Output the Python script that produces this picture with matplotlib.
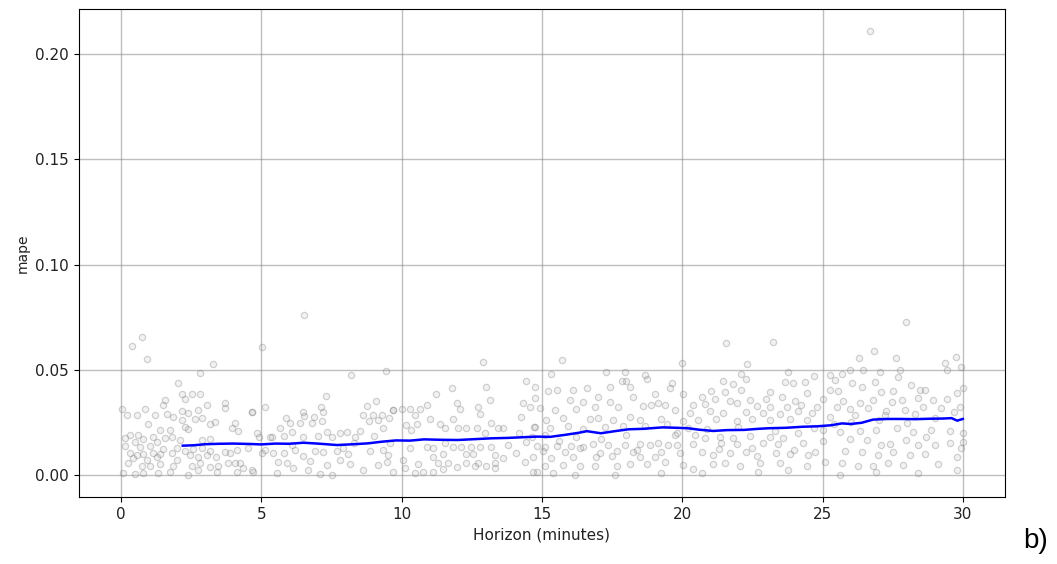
import matplotlib.pyplot as plt
import numpy as np

# ================= cross-validation errors (horizon in minutes, mape)

pts_0_5 = [
    (0.74, 0.0657), (0.38, 0.0612), (0.91, 0.0549), (3.29, 0.0527), (2.81, 0.0483),
    (2.04, 0.0435), (2.16, 0.0384), (2.52, 0.0384), (2.81, 0.0384), (1.57, 0.0356),
    (2.28, 0.0360), (1.51, 0.0332), (3.05, 0.0332), (3.71, 0.0340), (3.71, 0.0316),
    (0.02, 0.0312), (0.86, 0.0312), (2.75, 0.0308), (2.16, 0.0305), (4.66, 0.0300),
    (0.20, 0.0285), (0.56, 0.0285), (1.21, 0.0285), (1.62, 0.0290), (1.86, 0.0277),
    (2.40, 0.0293), (2.64, 0.0266), (2.88, 0.0269), (3.35, 0.0253), (3.17, 0.0242),
    (2.16, 0.0261), (2.28, 0.0226), (2.40, 0.0217), (4.06, 0.0248), (3.94, 0.0221),
    (4.18, 0.0210), (0.97, 0.0242), (1.39, 0.0214), (1.75, 0.0214), (0.32, 0.0190),
    (0.62, 0.0190), (0.14, 0.0174), (0.80, 0.0169), (1.15, 0.0182), (1.57, 0.0174),
    (1.80, 0.0179), (2.10, 0.0166), (2.87, 0.0166), (3.17, 0.0169), (0.50, 0.0158),
    (1.27, 0.0158), (0.14, 0.0138), (0.68, 0.0134), (1.03, 0.0138), (1.51, 0.0122),
    (1.98, 0.0127), (2.28, 0.0115), (2.58, 0.0122), (2.87, 0.0127), (3.17, 0.0115),
    (3.70, 0.0111), (4.12, 0.0119), (4.54, 0.0127), (0.32, 0.0106), (0.56, 0.0095),
    (0.80, 0.0100), (1.15, 0.0106), (1.39, 0.0100), (1.80, 0.0103), (2.46, 0.0095),
    (2.75, 0.0084), (3.05, 0.0095), (3.40, 0.0087), (3.88, 0.0103), (0.44, 0.0079),
    (0.91, 0.0071), (1.27, 0.0087), (1.98, 0.0071), (0.26, 0.0055), (0.74, 0.0040),
    (1.03, 0.0043), (1.39, 0.0052), (1.86, 0.0043), (2.52, 0.0040), (2.81, 0.0055),
    (3.17, 0.0036), (3.47, 0.0040), (3.82, 0.0059), (4.06, 0.0055), (4.24, 0.0059),
    (0.08, 0.0008), (0.50, 0.0005), (0.80, 0.0011), (1.33, 0.0008), (1.75, 0.0016),
    (2.40, 0.0000), (2.75, 0.0024), (3.41, 0.0016), (4.12, 0.0016), (4.36, 0.0032),
    (4.66, 0.0024),
]

pts_5_10 = [
    (6.52, 0.0761), (5.02, 0.0606), (8.19, 0.0476), (9.45, 0.0492), (7.31, 0.0375),
    (5.13, 0.0321), (4.66, 0.0297), (6.48, 0.0299), (7.13, 0.0324), (8.78, 0.0327),
    (9.09, 0.0350), (9.68, 0.0308), (6.52, 0.0280), (6.86, 0.0277), (7.18, 0.0300),
    (8.64, 0.0285), (8.97, 0.0285), (9.29, 0.0285), (5.88, 0.0269), (6.03, 0.0248),
    (6.38, 0.0248), (6.80, 0.0248), (7.15, 0.0258), (8.85, 0.0258), (9.17, 0.0261),
    (9.56, 0.0269), (5.67, 0.0221), (6.08, 0.0206), (7.33, 0.0206), (7.80, 0.0201),
    (8.04, 0.0206), (8.52, 0.0210), (9.35, 0.0221), (5.31, 0.0182), (5.79, 0.0185),
    (6.50, 0.0182), (7.03, 0.0185), (7.51, 0.0179), (8.34, 0.0179), (9.02, 0.0185),
    (4.90, 0.0182), (5.13, 0.0119), (5.02, 0.0106), (5.43, 0.0106), (5.79, 0.0103),
    (6.20, 0.0119), (6.50, 0.0090), (6.92, 0.0115), (7.21, 0.0111), (7.69, 0.0115),
    (8.10, 0.0100), (8.88, 0.0115), (9.35, 0.0119), (9.53, 0.0095), (5.61, 0.0063),
    (5.91, 0.0059), (6.14, 0.0032), (6.74, 0.0068), (7.33, 0.0047), (7.81, 0.0071),
    (8.16, 0.0052), (9.17, 0.0047), (9.47, 0.0063), (4.72, 0.0016), (5.55, 0.0008),
    (6.68, 0.0021), (7.09, 0.0005), (7.51, 0.0000), (8.64, 0.0024), (9.71, 0.0016),
    (4.84, 0.0198), (5.37, 0.0179), (8.30, 0.0150), (7.90, 0.0128), (6.10, 0.0140),
]

pts_10_15 = [
    (12.91, 0.0538), (14.45, 0.0448), (11.78, 0.0411), (13.02, 0.0419), (11.24, 0.0384),
    (13.14, 0.0356), (11.96, 0.0343), (10.89, 0.0332), (12.73, 0.0321), (9.70, 0.0308),
    (10.00, 0.0312), (10.29, 0.0312), (10.65, 0.0312), (12.07, 0.0312), (12.79, 0.0290),
    (14.33, 0.0340), (14.57, 0.0324), (10.47, 0.0285), (11.01, 0.0264), (11.84, 0.0264),
    (14.27, 0.0277), (10.17, 0.0237), (10.53, 0.0242), (11.36, 0.0242), (13.20, 0.0248),
    (10.35, 0.0214), (11.54, 0.0221), (12.01, 0.0221), (12.31, 0.0221), (12.67, 0.0221),
    (13.44, 0.0221), (13.62, 0.0221), (12.96, 0.0198), (9.58, 0.0150), (10.29, 0.0127),
    (10.89, 0.0134), (11.12, 0.0127), (11.84, 0.0131), (12.13, 0.0131), (12.49, 0.0131),
    (12.79, 0.0131), (13.20, 0.0131), (11.54, 0.0150), (14.09, 0.0106), (14.45, 0.0158),
    (11.48, 0.0100), (12.31, 0.0100), (12.55, 0.0100), (13.32, 0.0095), (11.12, 0.0084),
    (10.05, 0.0071), (10.59, 0.0052), (11.30, 0.0055), (11.66, 0.0059), (12.31, 0.0055),
    (12.73, 0.0059), (13.32, 0.0059), (14.39, 0.0063), (10.77, 0.0016), (11.12, 0.0016),
    (11.48, 0.0027), (11.96, 0.0036), (12.61, 0.0040), (13.02, 0.0040), (13.32, 0.0032),
    (10.11, 0.0032), (10.47, 0.0008), (14.69, 0.0016), (13.80, 0.0140), (13.60, 0.0080),
    (14.20, 0.0200), (14.70, 0.0230),
]

pts_15_20 = [
    (15.70, 0.0546), (15.34, 0.0479), (17.30, 0.0490), (17.95, 0.0490), (18.67, 0.0475),
    (18.73, 0.0454), (17.84, 0.0448), (18.01, 0.0448), (14.75, 0.0419), (15.22, 0.0400),
    (15.52, 0.0403), (16.11, 0.0403), (16.59, 0.0411), (17.42, 0.0419), (18.13, 0.0419),
    (19.02, 0.0384), (19.56, 0.0411), (14.75, 0.0364), (16.00, 0.0356), (16.47, 0.0348),
    (17.00, 0.0369), (17.42, 0.0348), (18.25, 0.0372), (19.14, 0.0340), (14.93, 0.0316),
    (15.46, 0.0308), (16.23, 0.0312), (16.88, 0.0321), (17.72, 0.0321), (18.61, 0.0327),
    (18.90, 0.0332), (19.38, 0.0332), (15.16, 0.0261), (15.76, 0.0269), (16.71, 0.0264),
    (17.00, 0.0269), (17.54, 0.0261), (18.13, 0.0277), (18.49, 0.0261), (19.26, 0.0264),
    (14.75, 0.0229), (15.28, 0.0221), (15.94, 0.0233), (16.47, 0.0217), (17.24, 0.0229),
    (17.90, 0.0233), (18.67, 0.0233), (19.44, 0.0242), (14.81, 0.0138), (15.10, 0.0134),
    (15.52, 0.0138), (16.05, 0.0138), (16.47, 0.0134), (16.83, 0.0147), (17.36, 0.0142),
    (17.95, 0.0142), (18.49, 0.0147), (18.85, 0.0142), (19.14, 0.0153), (19.50, 0.0142),
    (15.04, 0.0115), (15.82, 0.0111), (16.35, 0.0127), (17.06, 0.0106), (17.66, 0.0115),
    (18.25, 0.0111), (19.26, 0.0111), (14.63, 0.0182), (15.10, 0.0190), (14.69, 0.0087),
    (15.34, 0.0079), (16.11, 0.0084), (16.94, 0.0087), (17.48, 0.0090), (18.49, 0.0084),
    (19.02, 0.0087), (15.10, 0.0040), (15.76, 0.0047), (16.35, 0.0040), (16.88, 0.0043),
    (17.66, 0.0040), (18.13, 0.0052), (18.73, 0.0052), (19.38, 0.0063), (14.81, 0.0016),
    (16.17, 0.0000), (17.60, 0.0000), (19.26, 0.0008), (15.40, 0.0008), (16.20, 0.0180),
    (17.10, 0.0170), (18.00, 0.0190), (19.80, 0.0200), (15.60, 0.0160), (18.40, 0.0120),
]

pts_20_25 = [
    (21.56, 0.0628), (23.22, 0.0633), (22.32, 0.0527), (20.01, 0.0530), (23.78, 0.0490),
    (22.09, 0.0479), (19.62, 0.0435), (21.44, 0.0448), (21.82, 0.0432), (22.29, 0.0454),
    (23.66, 0.0443), (23.95, 0.0438), (24.37, 0.0443), (21.04, 0.0400), (21.52, 0.0396),
    (22.11, 0.0403), (23.12, 0.0396), (24.43, 0.0391), (20.03, 0.0384), (20.69, 0.0372),
    (21.16, 0.0359), (21.70, 0.0353), (22.41, 0.0356), (22.98, 0.0359), (23.54, 0.0372),
    (24.01, 0.0353), (20.39, 0.0332), (20.81, 0.0337), (21.94, 0.0340), (22.65, 0.0327),
    (23.12, 0.0321), (23.72, 0.0321), (24.25, 0.0332), (19.74, 0.0308), (20.27, 0.0293),
    (20.99, 0.0305), (21.46, 0.0293), (22.29, 0.0300), (22.89, 0.0296), (23.48, 0.0290),
    (24.13, 0.0305), (24.61, 0.0293), (20.03, 0.0258), (20.57, 0.0261), (21.22, 0.0264),
    (21.94, 0.0258), (22.47, 0.0264), (23.12, 0.0261), (23.84, 0.0264), (24.43, 0.0261),
    (19.74, 0.0190), (20.45, 0.0190), (20.81, 0.0174), (21.34, 0.0182), (21.82, 0.0174),
    (22.41, 0.0185), (23.12, 0.0179), (23.60, 0.0174), (24.13, 0.0198), (19.80, 0.0142),
    (20.39, 0.0147), (21.40, 0.0150), (21.94, 0.0147), (22.89, 0.0150), (23.42, 0.0147),
    (24.31, 0.0153), (19.92, 0.0103), (20.69, 0.0111), (21.10, 0.0095), (21.70, 0.0103),
    (22.29, 0.0111), (22.65, 0.0090), (23.36, 0.0106), (23.84, 0.0100), (24.49, 0.0095),
    (20.03, 0.0047), (21.10, 0.0052), (21.52, 0.0059), (22.05, 0.0043), (22.77, 0.0055),
    (23.48, 0.0059), (24.43, 0.0040), (20.39, 0.0027), (20.69, 0.0008), (22.71, 0.0016),
    (23.78, 0.0024), (20.90, 0.0220), (22.00, 0.0230), (23.30, 0.0210), (24.70, 0.0225),
    (21.30, 0.0125), (22.50, 0.0128), (24.00, 0.0120), (20.20, 0.0225),
]

pts_25_30 = [
    (27.97, 0.0728), (26.83, 0.0590), (26.31, 0.0554), (27.61, 0.0554), (29.36, 0.0533),
    (29.75, 0.0562), (29.95, 0.0511), (25.98, 0.0498), (26.43, 0.0498), (27.04, 0.0490),
    (27.76, 0.0498), (29.42, 0.0501), (24.69, 0.0470), (25.26, 0.0475), (25.68, 0.0479),
    (27.70, 0.0467), (25.44, 0.0451), (26.04, 0.0435), (26.87, 0.0443), (25.26, 0.0403),
    (25.56, 0.0400), (26.39, 0.0419), (27.10, 0.0396), (27.52, 0.0400), (28.17, 0.0427),
    (28.47, 0.0406), (28.65, 0.0403), (29.78, 0.0391), (30.00, 0.0411), (25.02, 0.0359),
    (25.74, 0.0353), (26.33, 0.0343), (26.81, 0.0356), (27.46, 0.0348), (27.82, 0.0356),
    (28.41, 0.0364), (28.94, 0.0356), (29.42, 0.0359), (24.79, 0.0321), (25.50, 0.0321),
    (25.98, 0.0312), (26.63, 0.0316), (27.28, 0.0305), (27.93, 0.0308), (28.59, 0.0321),
    (29.24, 0.0316), (29.90, 0.0321), (25.26, 0.0277), (26.15, 0.0285), (27.22, 0.0285),
    (28.29, 0.0290), (25.02, 0.0214), (25.62, 0.0206), (26.33, 0.0210), (26.92, 0.0214),
    (27.64, 0.0221), (28.23, 0.0206), (28.88, 0.0214), (29.54, 0.0210), (30.00, 0.0201),
    (25.02, 0.0163), (25.98, 0.0169), (26.57, 0.0166), (27.10, 0.0142), (27.40, 0.0147),
    (27.99, 0.0166), (28.41, 0.0142), (29.00, 0.0142), (29.54, 0.0153), (30.00, 0.0158),
    (24.73, 0.0111), (25.80, 0.0115), (26.39, 0.0111), (26.98, 0.0095), (27.52, 0.0111),
    (28.11, 0.0095), (28.65, 0.0100), (29.78, 0.0084), (25.08, 0.0063), (25.68, 0.0055),
    (26.27, 0.0043), (26.81, 0.0040), (27.34, 0.0059), (27.88, 0.0047), (29.12, 0.0052),
    (25.62, 0.0000), (26.92, 0.0016), (28.41, 0.0011), (29.78, 0.0024), (29.95, 0.0127),
    (26.68, 0.2112), (26.00, 0.0250), (27.00, 0.0260), (28.00, 0.0245), (29.00, 0.0270),
    (25.40, 0.0240), (28.70, 0.0180), (29.70, 0.0300),
]

# rolling mean of mape over the horizon
roll_h = [2.2, 2.6, 3.0, 3.5, 4.0, 4.6, 5.0, 5.5, 6.0, 6.5, 7.0, 7.7, 8.3, 8.8,
          9.3, 9.8, 10.3, 10.8, 11.4, 12.0, 12.6, 13.2, 13.8, 14.3, 14.8, 15.3,
          15.8, 16.3, 16.6, 17.1, 17.6, 18.1, 18.6, 19.3, 19.8, 20.2, 20.6, 21.1,
          21.6, 22.2, 22.7, 23.1, 23.7, 24.3, 24.8, 25.3, 25.7, 26.0, 26.4, 26.8,
          27.3, 27.8, 28.3, 28.8, 29.3, 29.6, 29.8, 30.0]
roll_mape = [0.0139, 0.0141, 0.0146, 0.0148, 0.0149, 0.0147, 0.0145, 0.0149,
             0.0148, 0.0153, 0.0149, 0.0142, 0.0146, 0.0150, 0.0158, 0.0164,
             0.0163, 0.0169, 0.0167, 0.0166, 0.0170, 0.0174, 0.0176, 0.0179,
             0.0182, 0.0181, 0.0190, 0.0200, 0.0208, 0.0198, 0.0208, 0.0217,
             0.0219, 0.0226, 0.0224, 0.0222, 0.0215, 0.0209, 0.0213, 0.0214,
             0.0219, 0.0222, 0.0224, 0.0229, 0.0231, 0.0236, 0.0245, 0.0242,
             0.0248, 0.0263, 0.0266, 0.0266, 0.0265, 0.0267, 0.0268, 0.0270,
             0.0258, 0.0266]

all_pts = np.array(pts_0_5 + pts_5_10 + pts_10_15 + pts_15_20 + pts_20_25 + pts_25_30)

fig = plt.figure(figsize=(10.57, 5.64), dpi=100)
ax = fig.add_axes([0.0747, 0.1188, 0.876, 0.8652])

# light grey rings, darker edge than face
ax.plot(all_pts[:, 0], all_pts[:, 1], 'o', markersize=4.5,
        mfc=(0.5, 0.5, 0.5, 0.10), mec=(0.5, 0.5, 0.5, 0.35), mew=0.9)
ax.plot(roll_h, roll_mape, color='b', lw=1.8)

ax.grid(True, which='major', c='gray', ls='-', lw=1, alpha=0.5)
ax.set_axisbelow(True)
ax.set_xticks([0, 5, 10, 15, 20, 25, 30])
ax.set_yticks([0.0, 0.05, 0.10, 0.15, 0.20])
ax.set_xlim(-1.5, 31.5)
ax.set_ylim(-0.0105, 0.2215)
ax.tick_params(labelsize=11, colors='#222222')
ax.tick_params(colors='black', labelcolor='#222222')
ax.set_xlabel('Horizon (minutes)', fontsize=11, color='#222222')
ax.set_ylabel('mape', fontsize=10, color='#222222')

fig.text(0.968, 0.028, 'b)', fontsize=20, family='Liberation Sans')

fig.savefig('out.png', dpi=100)
